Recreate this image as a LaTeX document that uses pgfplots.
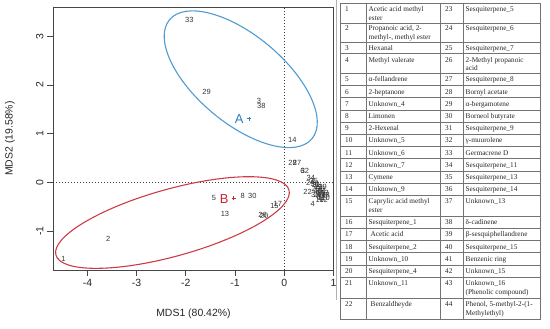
\documentclass[border=0pt]{standalone}
\usepackage{pgfplots}
\pgfplotsset{compat=1.18}
\usepackage{pgfplotstable}
\usepackage{fontspec}
\setmainfont{Liberation Sans}
\newfontfamily\tabfont{Liberation Serif}
\definecolor{ellA}{RGB}{80,155,210}
\definecolor{ellB}{RGB}{205,60,70}
\definecolor{txtA}{RGB}{45,125,195}
\definecolor{txtB}{RGB}{200,35,50}
\definecolor{axgray}{RGB}{70,70,70}

\pgfplotstableread{
x y label
-4.49 -1.575 1
-3.58 -1.164 2
-0.514 1.676 3
0.577 -0.445 4
-1.43 -0.33 5
0.37 0.24 6
0.80 -0.28 7
-0.846 -0.28 8
0.70 -0.30 9
0.84 -0.31 10
0.75 -0.33 11
0.80 -0.36 12
-1.205 -0.65 13
0.163 0.875 14
-0.20 -0.48 15
0.72 -0.37 16
-0.13 -0.44 17
0.84 -0.25 18
0.78 -0.10 19
-0.41 -0.69 20
0.68 -0.26 21
0.475 -0.205 22
0.70 -0.10 23
0.53 -0.02 24
0.64 -0.13 25
-0.44 -0.66 26
0.26 0.39 27
0.17 0.39 28
-1.58 1.85 29
-0.65 -0.28 30
0.66 -0.06 31
0.42 0.24 32
-1.93 3.33 33
0.54 0.10 34
0.60 0.02 35
0.62 -0.03 36
0.63 -0.25 37
-0.467 1.567 38
0.74 -0.14 39
0.68 -0.18 40
0.78 -0.18 41
0.72 -0.22 42
0.82 -0.21 43
0.76 -0.26 44
}\pts

\newcommand{\tl}[3]{\node[anchor=base west, inner sep=0pt, text=black!85, font=\tabfont\fontsize{7.3}{8.5}\selectfont] at (#1,#2) {#3};}

\begin{document}
\begin{tikzpicture}
\useasboundingbox (0,0) rectangle (550bp,329bp);
\begin{axis}[
  at={(53bp,59bp)}, anchor=south west,
  x=49.2bp, y=48.7bp,
  xmin=-4.70, xmax=1.01, ymin=-1.80, ymax=3.60,
  xtick={-4,-3,-2,-1,0,1}, ytick={-1,0,1,2,3},
  xtick pos=left, ytick pos=left,
  tick align=outside,
  major tick length=6bp,
  axis line style={axgray, line width=0.9bp},
  every tick/.style={axgray, line width=0.8bp},
  tick label style={font=\fontsize{10.5}{12}\selectfont, text=black!85},
  /pgf/number format/assume math mode=true,
  yticklabel style={rotate=90, anchor=south},
  xlabel={MDS1 (80.42\%)}, ylabel={MDS2 (19.58\%)},
  label style={font=\fontsize{10.5}{12}\selectfont, text=black!85},
  xlabel style={at={(axis description cs:0.5,-0.1647)}, anchor=center},
  ylabel style={at={(axis description cs:-0.153,0.5)}, anchor=center},
  clip=false,
]
\draw[black!75, line width=0.8bp, dash pattern=on 1bp off 2bp] (axis cs:0,-1.8) -- (axis cs:0,3.6);
\draw[black!75, line width=0.8bp, dash pattern=on 1bp off 2bp] (axis cs:-4.7,0) -- (axis cs:1.01,0);
\addplot[draw=none, mark=none,
  nodes near coords, point meta=explicit symbolic,
  every node near coord/.append style={anchor=center, inner sep=0pt, text=black!80, font=\fontsize{7.5}{9}\selectfont}]
  table[x=x, y=y, meta=label] {\pts};
\addplot[only marks, mark=+, mark size=2bp, mark options={line width=0.6bp}, color=txtA] coordinates {(-0.72,1.31)};
\addplot[only marks, mark=+, mark size=2bp, mark options={line width=0.6bp}, color=txtB] coordinates {(-1.03,-0.33)};
\node[text=txtA, font=\fontsize{13}{15}\selectfont, inner sep=0pt] at (axis cs:-0.915,1.29) {A};
\node[text=txtB, font=\fontsize{13}{15}\selectfont, inner sep=0pt] at (axis cs:-1.22,-0.35) {B};
\coordinate (cA) at (axis cs:-0.884,2.117);
\coordinate (cB) at (axis cs:-2.272,-0.825);
\end{axis}
\draw[ellA, line width=1.1bp, rotate around={-39.9:(cA)}] (cA) ellipse [x radius=92.8bp, y radius=43.8bp];
\draw[ellB, line width=1.1bp, rotate around={15.6:(cB)}] (cB) ellipse [x radius=121bp, y radius=33.5bp];

\draw[black!30, line width=0.6bp] (336.3bp,329bp) -- (336.3bp,29bp);

\begin{scope}[x=1bp, y=-1bp, shift={(0,329bp)}]
\draw[black!55, line width=0.6bp] (340,3.3) rectangle (540,319.2);
\foreach \v in {23.0,42.0,53.6,73.4,85.6,97.8,110.0,122.2,134.4,146.6,158.8,171.0,183.2,195.4,216.2,228.4,240.6,252.8,265.0,277.2,298.2}
  \draw[black!55, line width=0.6bp] (340,\v) -- (540,\v);
\foreach \u in {366,440,463}
  \draw[black!55, line width=0.6bp] (\u,3.3) -- (\u,319.2);
% column 1 and 2
\tl{345}{11.8}{1}\tl{368.5}{11.8}{Acetic acid methyl}\tl{368.5}{20.4}{ester}
\tl{345}{30.5}{2}\tl{368.5}{30.5}{Propanoic acid, 2-}\tl{368.5}{39.1}{methyl-, methyl ester}
\tl{345}{50.5}{3}\tl{368.5}{50.5}{Hexanal}
\tl{345}{62.1}{4}\tl{368.5}{62.1}{Methyl valerate}
\tl{345}{81.9}{5}\tl{368.5}{81.9}{α-fellandrene}
\tl{345}{94.1}{6}\tl{368.5}{94.1}{2-heptanone}
\tl{345}{106.3}{7}\tl{368.5}{106.3}{Unknown\_4}
\tl{345}{118.5}{8}\tl{368.5}{118.5}{Limonen}
\tl{345}{130.7}{9}\tl{368.5}{130.7}{2-Hexenal}
\tl{345}{142.9}{10}\tl{368.5}{142.9}{Unknown\_5}
\tl{345}{155.1}{11}\tl{368.5}{155.1}{Unknown\_6}
\tl{345}{167.3}{12}\tl{368.5}{167.3}{Unknown\_7}
\tl{345}{179.5}{13}\tl{368.5}{179.5}{Cymene}
\tl{345}{191.7}{14}\tl{368.5}{191.7}{Unknown\_9}
\tl{345}{203.9}{15}\tl{368.5}{203.9}{Caprylic acid methyl}\tl{368.5}{212.5}{ester}
\tl{345}{224.7}{16}\tl{368.5}{224.7}{Sesquiterpene\_1}
\tl{345}{236.9}{17}\tl{370.5}{236.9}{Acetic acid}
\tl{345}{249.1}{18}\tl{368.5}{249.1}{Sesquiterpene\_2}
\tl{345}{261.3}{19}\tl{368.5}{261.3}{Unknown\_10}
\tl{345}{273.5}{20}\tl{368.5}{273.5}{Sesquiterpene\_4}
\tl{345}{285.7}{21}\tl{368.5}{285.7}{Unknown\_11}
\tl{345}{306.7}{22}\tl{370.5}{306.7}{Benzaldheyde}
% column 3 and 4
\tl{445}{11.8}{23}\tl{465.5}{11.8}{Sesquiterpene\_5}
\tl{445}{30.5}{24}\tl{465.5}{30.5}{Sesquiterpene\_6}
\tl{445}{50.5}{25}\tl{465.5}{50.5}{Sesquiterpene\_7}
\tl{445}{62.1}{26}\tl{465.5}{62.1}{2-Methyl propanoic}\tl{465.5}{70.7}{acid}
\tl{445}{81.9}{27}\tl{465.5}{81.9}{Sesquiterpene\_8}
\tl{445}{94.1}{28}\tl{465.5}{94.1}{Bornyl acetate}
\tl{445}{106.3}{29}\tl{465.5}{106.3}{α-bergamotene}
\tl{445}{118.5}{30}\tl{465.5}{118.5}{Borneol butyrate}
\tl{445}{130.7}{31}\tl{465.5}{130.7}{Sesquiterpene\_9}
\tl{445}{142.9}{32}\tl{465.5}{142.9}{γ-muurolene}
\tl{445}{155.1}{33}\tl{465.5}{155.1}{Germacrene D}
\tl{445}{167.3}{34}\tl{465.5}{167.3}{Sesquiterpene\_11}
\tl{445}{179.5}{35}\tl{465.5}{179.5}{Sesquiterpene\_13}
\tl{445}{191.7}{36}\tl{465.5}{191.7}{Sesquiterpene\_14}
\tl{445}{203.9}{37}\tl{465.5}{203.9}{Unknown\_13}
\tl{445}{224.7}{38}\tl{465.5}{224.7}{δ-cadinene}
\tl{445}{236.9}{39}\tl{465.5}{236.9}{β-sesquiphellandrene}
\tl{445}{249.1}{40}\tl{465.5}{249.1}{Sesquiterpene\_15}
\tl{445}{261.3}{41}\tl{465.5}{261.3}{Benzenic ring}
\tl{445}{273.5}{42}\tl{465.5}{273.5}{Unknown\_15}
\tl{445}{285.7}{43}\tl{465.5}{285.7}{Unknown\_16}\tl{465.5}{294.3}{(Phenolic compound)}
\tl{445}{306.7}{44}\tl{465.5}{306.7}{Phenol, 5-methyl-2-(1-}\tl{465.5}{315.3}{Methylethyl)}
\end{scope}
\end{tikzpicture}
\end{document}
